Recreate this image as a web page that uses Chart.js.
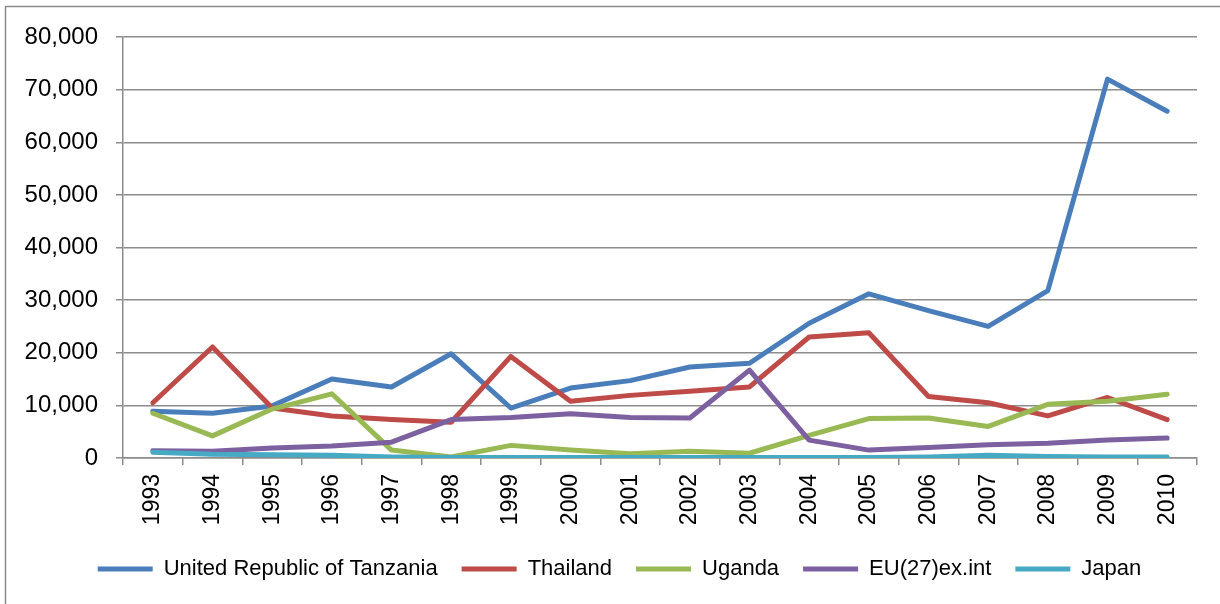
<!DOCTYPE html>
<html>
<head>
<meta charset="utf-8">
<script src="https://cdn.jsdelivr.net/npm/chart.js@4.4.1/dist/chart.umd.min.js"></script>
<style>
    html, body { margin: 0; padding: 0; background: #fff; }
    #wrap { position: relative; width: 1220px; height: 604px; }
</style>
</head>
<body>
<div id="wrap"><canvas id="importsChart"></canvas></div>
<script>
const years = ['1993', '1994', '1995', '1996', '1997', '1998', '1999', '2000', '2001',
    '2002', '2003', '2004', '2005', '2006', '2007', '2008', '2009', '2010'];

const tanzania = [8900, 8500, 9900, 15000, 13500, 19800, 9500, 13300, 14700,
    17300, 18000, 25600, 31200, 28000, 25000, 31800, 72000, 65900];
const thailand = [10500, 21100, 9500, 8000, 7300, 6800, 19300, 10800, 11900,
    12700, 13500, 23000, 23800, 11700, 10500, 8000, 11500, 7300];
const uganda = [8500, 4200, 9300, 12200, 1500, 200, 2400, 1500, 800,
    1300, 900, 4300, 7500, 7600, 6000, 10200, 10800, 12100];
const eu27 = [1400, 1300, 1900, 2300, 3000, 7300, 7700, 8400, 7700,
    7600, 16700, 3400, 1500, 2000, 2500, 2800, 3400, 3800];
const japan = [1100, 700, 600, 500, 200, 100, 100, 100, 100,
    100, 100, 100, 100, 200, 500, 300, 200, 200];

const seriesNames = ['United Republic of Tanzania', 'Thailand', 'Uganda', 'EU(27)ex.int', 'Japan'];
const seriesColors = ['#4a7ebb', '#be4b48', '#98b954', '#7d60a0', '#46aac5'];
const yTicks = [0, 10000, 20000, 30000, 40000, 50000, 60000, 70000, 80000];

const gridGray = '#8c8c8c';
const fontFamily = 'Liberation Sans';

// outer frame of the figure box
const framePlugin = {
    id: 'frame',
    beforeDraw(chart) {
        const ctx = chart.ctx;
        ctx.save();
        ctx.strokeStyle = '#8a8a8a';
        ctx.lineWidth = 1.5;
        ctx.beginPath();
        ctx.moveTo(5.5, 604);
        ctx.lineTo(5.5, 6.5);
        ctx.lineTo(1220, 6.5);
        ctx.stroke();
        ctx.restore();
    }
};

// nudge the legend row a little to the right
const legendShift = {
    id: 'legendShift',
    afterLayout(chart) {
        if (chart.legend) {
            chart.legend.left += 21;
            chart.legend.right += 21;
        }
    }
};

const allSeries = [tanzania, thailand, uganda, eu27, japan];
const datasets = allSeries.map((values, i) => ({
    label: seriesNames[i],
    data: values,
    borderColor: seriesColors[i],
    backgroundColor: seriesColors[i],
    borderWidth: 5,
    borderCapStyle: 'round',
    borderJoinStyle: 'round',
    pointRadius: 0,
    tension: 0,
    fill: false,
    // later series sit on top
    order: allSeries.length - i
}));

new Chart(document.getElementById('importsChart'), {
    type: 'line',
    data: { labels: years, datasets },
    plugins: [framePlugin, legendShift],
    options: {
        responsive: true,
        maintainAspectRatio: false,
        animation: false,
        layout: { padding: { left: 0, top: 37, right: 23, bottom: 14 } },
        plugins: {
            legend: {
                position: 'bottom',
                labels: {
                    boxWidth: 55,
                    boxHeight: 5,
                    padding: 24,
                    color: '#000',
                    font: { family: fontFamily, size: 22 },
                    sort: (a, b) => a.datasetIndex - b.datasetIndex,
                    generateLabels: (chart) => chart.data.datasets.map((ds, i) => ({
                        text: ds.label,
                        fillStyle: ds.borderColor,
                        strokeStyle: ds.borderColor,
                        lineWidth: 0,
                        datasetIndex: i,
                        hidden: false
                    }))
                }
            },
            tooltip: { enabled: false }
        },
        scales: {
            x: {
                offset: true,
                grid: {
                    offset: true,
                    drawOnChartArea: false,
                    drawTicks: true,
                    tickLength: 7,
                    color: gridGray,
                    lineWidth: 1.5
                },
                border: { color: gridGray, width: 1.5 },
                ticks: {
                    color: '#000',
                    font: { family: fontFamily, size: 23 },
                    minRotation: 90,
                    maxRotation: 90,
                    autoSkip: false,
                    padding: 9
                },
                afterFit: (scale) => { scale.height = 76; }
            },
            y: {
                min: 0,
                max: 80000,
                afterBuildTicks: (scale) => {
                    scale.ticks = yTicks.map(v => ({ value: v }));
                },
                grid: {
                    color: gridGray,
                    lineWidth: 1.5,
                    drawTicks: true,
                    tickLength: 7
                },
                border: { color: gridGray, width: 1.5 },
                ticks: {
                    color: '#000',
                    font: { family: fontFamily, size: 24 },
                    padding: 18,
                    callback: (v) => v.toLocaleString('en-US')
                },
                afterFit: (scale) => { scale.width = 123; }
            }
        }
    }
});
</script>
</body>
</html>
